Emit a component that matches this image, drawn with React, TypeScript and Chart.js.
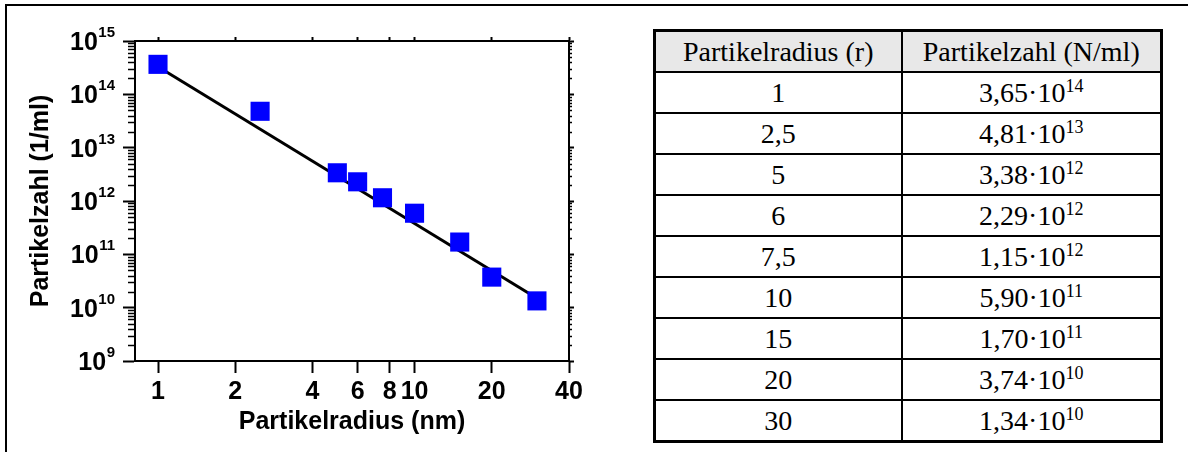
import React, { useEffect, useRef } from 'react';
import { Chart, registerables } from 'chart.js';

Chart.register(...registerables);

// ---- data ----
const radii = [1, 2.5, 5, 6, 7.5, 10, 15, 20, 30];
const counts = [3.65e14, 4.81e13, 3.38e12, 2.29e12, 1.15e12, 5.9e11, 1.7e11, 3.74e10, 1.34e10];
const fitX = [1, 30];
const fitY = [3.3e14, 1.5e10];
const xTicks = [1, 2, 4, 6, 8, 10, 20, 40];
const yTicks = [1e9, 1e10, 1e11, 1e12, 1e13, 1e14, 1e15];
const yTickExponents = ['9', '10', '11', '12', '13', '14', '15'];
const minorMultipliers = [2, 3, 4, 5, 6, 7, 8, 9];

const tableRadius = ['1', '2,5', '5', '6', '7,5', '10', '15', '20', '30'];
const tableMantissa = ['3,65', '4,81', '3,38', '2,29', '1,15', '5,90', '1,70', '3,74', '1,34'];
const tableExponent = ['14', '13', '12', '12', '12', '11', '11', '10', '10'];

const xTitle = 'Partikelradius (nm)';
const yTitle = 'Partikelzahl (1/ml)';
const colHeaders = ['Partikelradius (r)', 'Partikelzahl (N/ml)'];

const SANS = "'Liberation Sans', Arial, sans-serif";
const SERIF = "'Liberation Serif', 'Times New Roman', serif";

// minor ticks on left (outward) and right (outward) log axes
const minorTickPlugin = {
  id: 'minorTicks',
  afterDraw(chart: any) {
    const { ctx, chartArea } = chart;
    const y = chart.scales.y;
    const y2 = chart.scales.y2;
    ctx.save();
    ctx.strokeStyle = '#000';
    ctx.lineWidth = 1.5;
    for (let i = 0; i < yTicks.length - 1; i++) {
      for (const m of minorMultipliers) {
        const v = yTicks[i] * m;
        const py = Math.round(y.getPixelForValue(v)) + 0.5;
        ctx.beginPath();
        ctx.moveTo(chartArea.left - 7, py);
        ctx.lineTo(chartArea.left, py);
        ctx.stroke();
        const py2 = Math.round(y2.getPixelForValue(v)) + 0.5;
        ctx.beginPath();
        ctx.moveTo(chartArea.right, py2);
        ctx.lineTo(chartArea.right + 3, py2);
        ctx.stroke();
      }
    }
    ctx.restore();
  },
};

// y tick labels "10" with raised exponent, placed at the scale's tick positions
const powerLabelPlugin = {
  id: 'powerLabels',
  afterDraw(chart: any) {
    const { ctx, chartArea } = chart;
    const y = chart.scales.y;
    const baseFont = `bold 25px ${SANS}`;
    const expFont = `bold 15px ${SANS}`;
    const right = chartArea.left - 20;
    ctx.save();
    ctx.fillStyle = '#000';
    ctx.textBaseline = 'alphabetic';
    ctx.textAlign = 'left';
    yTicks.forEach((v, i) => {
      const py = y.getPixelForValue(v);
      const exp = yTickExponents[i];
      ctx.font = expFont;
      const ew = ctx.measureText(exp).width;
      ctx.font = baseFont;
      const bw = ctx.measureText('10').width;
      ctx.fillText('10', right - ew - bw - 0.5, py + 9);
      ctx.font = expFont;
      ctx.fillText(exp, right - ew, py - 4);
    });
    ctx.restore();
  },
};

function ParticleChart() {
  const ref = useRef<HTMLCanvasElement | null>(null);
  useEffect(() => {
    if (!ref.current) return;
    const tickFont = { family: SANS, size: 25, weight: 'bold' as const };
    const chart = new Chart(ref.current, {
      type: 'scatter',
      data: {
        datasets: [
          {
            type: 'scatter',
            data: radii.map((r, i) => ({ x: r, y: counts[i] })),
            pointStyle: 'rect',
            pointRadius: 13.5,
            pointHoverRadius: 13.5,
            backgroundColor: '#0000FF',
            borderColor: '#0000FF',
            borderWidth: 0,
          },
          {
            type: 'line',
            data: fitX.map((x, i) => ({ x, y: fitY[i] })),
            borderColor: '#000',
            borderWidth: 3,
            pointRadius: 0,
            fill: false,
          } as any,
        ],
      },
      options: {
        animation: false,
        responsive: false,
        devicePixelRatio: 1,
        layout: { padding: { left: 26, top: 0, right: 0, bottom: 0 } },
        plugins: { legend: { display: false }, tooltip: { enabled: false } },
        scales: {
          x: {
            type: 'logarithmic',
            position: 'bottom',
            min: 0.8134,
            max: 40,
            afterBuildTicks: (s: any) => { s.ticks = xTicks.map((v) => ({ value: v })); },
            afterFit: (s: any) => { s.height = 91; },
            ticks: {
              font: tickFont,
              color: '#000',
              padding: 4,
              autoSkip: false,
              maxRotation: 0,
              callback: (v: any) => String(v),
            },
            grid: { drawOnChartArea: false, drawTicks: true, tickLength: 12, tickWidth: 2, color: '#000' },
            border: { display: true, color: '#000', width: 2 },
            title: { display: true, text: xTitle, font: tickFont, color: '#000', padding: { top: 0, bottom: 15 } },
          },
          x2: {
            type: 'logarithmic',
            position: 'top',
            min: 0.8134,
            max: 40,
            afterBuildTicks: (s: any) => { s.ticks = xTicks.map((v) => ({ value: v })); },
            afterFit: (s: any) => { s.height = 41; },
            ticks: { display: false },
            grid: { drawOnChartArea: false, drawTicks: true, tickLength: 4, tickWidth: 2, color: '#000' },
            border: { display: true, color: '#000', width: 2 },
          },
          y: {
            type: 'logarithmic',
            position: 'left',
            min: 1e9,
            max: 1e15,
            afterBuildTicks: (s: any) => { s.ticks = yTicks.map((v) => ({ value: v })); },
            afterFit: (s: any) => { s.width = 109; },
            ticks: { display: false },
            grid: { drawOnChartArea: false, drawTicks: true, tickLength: 12, tickWidth: 2, color: '#000' },
            border: { display: true, color: '#000', width: 2 },
            title: { display: true, text: yTitle, font: tickFont, color: '#000', padding: { top: 0, bottom: 0 } },
          },
          y2: {
            type: 'logarithmic',
            position: 'right',
            min: 1e9,
            max: 1e15,
            afterBuildTicks: (s: any) => { s.ticks = yTicks.map((v) => ({ value: v })); },
            afterFit: (s: any) => { s.width = 51; },
            ticks: { display: false },
            grid: { drawOnChartArea: false, drawTicks: true, tickLength: 5, tickWidth: 2, color: '#000' },
            border: { display: true, color: '#000', width: 2 },
          },
        },
      } as any,
      plugins: [minorTickPlugin, powerLabelPlugin],
    });
    return () => chart.destroy();
  }, []);
  return (
    <canvas
      ref={ref}
      width={620}
      height={452}
      style={{ position: 'absolute', left: 0, top: 0, width: 620, height: 452 }}
    />
  );
}

function DataTable() {
  const cell: React.CSSProperties = {
    border: '2px solid #000',
    textAlign: 'center',
    verticalAlign: 'middle',
    padding: 0,
    height: 39,
    lineHeight: '30px',
  };
  const sup: React.CSSProperties = { fontSize: 18, verticalAlign: 'super', lineHeight: 0 };
  return (
    <table
      style={{
        position: 'absolute',
        left: 653,
        top: 29,
        width: 507,
        height: 413,
        borderCollapse: 'collapse',
        border: '3px solid #000',
        fontFamily: SERIF,
        fontSize: 28,
        color: '#000',
        tableLayout: 'fixed',
      }}
    >
      <colgroup>
        <col style={{ width: 247 }} />
        <col style={{ width: 260 }} />
      </colgroup>
      <thead>
        <tr style={{ background: '#e8e8e8' }}>
          {colHeaders.map((h) => (
            <th key={h} style={{ ...cell, fontWeight: 'normal' }}>{h}</th>
          ))}
        </tr>
      </thead>
      <tbody>
        {tableRadius.map((r, i) => (
          <tr key={r}>
            <td style={cell}>{r}</td>
            <td style={cell}>
              {tableMantissa[i]}
              {'\u00B7'}10<sup style={sup}>{tableExponent[i]}</sup>
            </td>
          </tr>
        ))}
      </tbody>
    </table>
  );
}

export default function App() {
  return (
    <div style={{ position: 'absolute', left: 0, top: 0, width: 1188, height: 452, background: '#fff', overflow: 'hidden' }}>
      <div
        style={{
          position: 'absolute',
          left: 5,
          top: 4,
          right: 0,
          bottom: 0,
          borderTop: '2px solid #000',
          borderLeft: '2px solid #000',
        }}
      />
      <ParticleChart />
      <DataTable />
    </div>
  );
}
